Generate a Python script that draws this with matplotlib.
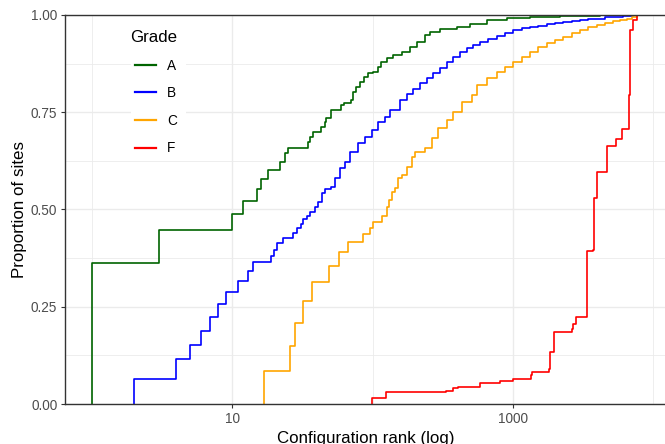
import numpy as np
import matplotlib
matplotlib.use('Agg')
import matplotlib.pyplot as plt
from matplotlib.lines import Line2D
from matplotlib.ticker import NullFormatter

plt.rcParams['font.family'] = ['Liberation Sans', 'DejaVu Sans']

# ECDF jump points: rank where the step happens, proportion after it
grade_a_rank = [1, 3, 10, 12, 15, 16, 18, 22, 24, 25,
                35, 36, 38, 43, 46, 47, 51, 60, 63, 70,
                73, 76, 81, 87, 93, 101, 109, 115, 126, 141,
                161, 185, 206, 236, 257, 302, 398, 494, 650, 902,
                1321, 2160, 4160]
grade_a_prop = [0.362, 0.447, 0.488, 0.522, 0.553, 0.578, 0.602, 0.623, 0.645, 0.659,
                0.673, 0.687, 0.700, 0.713, 0.724, 0.734, 0.756, 0.769, 0.773, 0.781,
                0.803, 0.814, 0.829, 0.841, 0.850, 0.854, 0.866, 0.880, 0.889, 0.897,
                0.906, 0.918, 0.931, 0.949, 0.957, 0.964, 0.970, 0.978, 0.987, 0.992,
                0.995, 0.998, 1.0]

grade_b_rank = [2, 4, 5, 6, 7, 8, 9, 11, 13, 14,
                19, 20, 21, 23, 27, 29, 31, 32, 34, 36,
                39, 41, 44, 46, 51, 54, 59, 64, 69, 79,
                88, 99, 110, 123, 133, 157, 175, 195, 218, 243,
                271, 302, 337, 376, 420, 468, 522, 582, 667, 766,
                877, 1005, 1153, 1321, 1514, 1737, 1991, 2280, 2617, 3000,
                3438, 3940, 4518, 5175, 6100, 7185]
grade_b_prop = [0.064, 0.115, 0.152, 0.188, 0.224, 0.256, 0.288, 0.316, 0.342, 0.365,
                0.380, 0.396, 0.413, 0.426, 0.439, 0.452, 0.463, 0.475, 0.484, 0.494,
                0.506, 0.520, 0.542, 0.553, 0.559, 0.580, 0.606, 0.623, 0.649, 0.670,
                0.687, 0.704, 0.726, 0.739, 0.756, 0.781, 0.797, 0.811, 0.824, 0.837,
                0.850, 0.863, 0.878, 0.893, 0.904, 0.914, 0.923, 0.931, 0.939, 0.947,
                0.955, 0.961, 0.966, 0.970, 0.973, 0.977, 0.980, 0.983, 0.985, 0.987,
                0.989, 0.991, 0.994, 0.996, 0.997, 1.0]

grade_c_rank = [17, 26, 28, 32, 37, 49, 58, 67, 85, 96,
                100, 116, 127, 130, 137, 145, 153, 161, 175, 190,
                201, 236, 264, 294, 337, 376, 431, 508, 551, 650,
                766, 877, 1005, 1153, 1321, 1514, 1737, 1991, 2280, 2617,
                3000, 3438, 3940, 4518, 5175, 5776, 6447, 6998, 7593]
grade_c_prop = [0.085, 0.150, 0.209, 0.265, 0.314, 0.354, 0.390, 0.416, 0.438, 0.453,
                0.469, 0.484, 0.507, 0.524, 0.546, 0.554, 0.580, 0.589, 0.610, 0.636,
                0.649, 0.657, 0.683, 0.709, 0.730, 0.751, 0.777, 0.794, 0.820, 0.837,
                0.854, 0.867, 0.880, 0.893, 0.906, 0.917, 0.927, 0.936, 0.944, 0.953,
                0.961, 0.968, 0.974, 0.979, 0.985, 0.988, 0.991, 0.996, 1.0]

grade_f_rank = [99, 125, 332, 376, 408, 582, 808, 1005, 1343, 1365,
                1813, 1833, 1958, 2617, 2660, 2808, 3346, 3380, 3728, 3771,
                3982, 4645, 5410, 5997, 6693, 6804, 7111, 7593]
grade_f_prop = [0.016, 0.032, 0.034, 0.040, 0.044, 0.053, 0.059, 0.065, 0.075, 0.083,
                0.089, 0.134, 0.186, 0.192, 0.206, 0.223, 0.226, 0.393, 0.396, 0.530,
                0.596, 0.664, 0.681, 0.707, 0.794, 0.961, 0.987, 1.0]

grades = ['A', 'B', 'C', 'F']
colors = ['#006400', '#0000FF', '#FFA500', '#FF0000']
ranks = [grade_a_rank, grade_b_rank, grade_c_rank, grade_f_rank]
props = [grade_a_prop, grade_b_prop, grade_c_prop, grade_f_prop]

fig = plt.figure(figsize=(6.65, 4.44), dpi=100)
W, H = 665, 444
# panel runs from x=65 to just past the right edge of the image
ax = fig.add_axes([65 / W, 40 / H, 601 / W, 389 / H])

xmin, xmax = 10 ** -0.189, 10 ** 4.089

for g, c, r, p in zip(grades, colors, ranks, props):
    xs = [r[0]] + list(r) + [xmax * 10]
    ys = [0.0] + list(p) + [1.0]
    ax.step(xs, ys, where='post', color=c, lw=1.2, label=g, zorder=2)

ax.set_xscale('log')
ax.set_xlim(xmin, xmax)
ax.set_ylim(0, 1)

ax.set_xticks([10, 1000])
ax.set_xticklabels(['10', '1000'])
ax.set_xticks([1, 100, 10000], minor=True)
ax.xaxis.set_minor_formatter(NullFormatter())
ax.set_yticks([0, 0.25, 0.5, 0.75, 1.0])
ax.set_yticklabels(['0.00', '0.25', '0.50', '0.75', '1.00'])
ax.set_yticks([0.125, 0.375, 0.625, 0.875], minor=True)

ax.grid(True, which='major', color='#EBEBEB', lw=1.0, zorder=0)
ax.grid(True, which='minor', color='#EBEBEB', lw=0.6, zorder=0)
ax.set_axisbelow(True)

ax.tick_params(which='major', length=3, width=0.8, color='#333333',
               labelcolor='#4D4D4D', labelsize=9.8, pad=2.5)
ax.tick_params(which='minor', length=0)

for s in ['left', 'bottom', 'top']:
    ax.spines[s].set_color('#333333')
    ax.spines[s].set_linewidth(1.0)
ax.spines['right'].set_visible(False)

ax.set_xlabel('Configuration rank (log)', fontsize=12.2, labelpad=4)
ax.set_ylabel('Proportion of sites', fontsize=12.2, labelpad=3)

handles = [Line2D([], [], color=c, lw=1.6) for c in colors]
leg = ax.legend(handles, grades, title='Grade', loc='upper left',
                bbox_to_anchor=(124 / W, 1 - 19 / H), bbox_transform=fig.transFigure,
                frameon=True, facecolor='white', edgecolor='none', framealpha=1,
                fancybox=False, fontsize=9.8, title_fontsize=12.2,
                handlelength=1.55, handletextpad=0.8, labelspacing=1.0,
                borderpad=0.3, alignment='left')
leg.get_title().set_x(-5)

fig.savefig('out.png', dpi=100)
